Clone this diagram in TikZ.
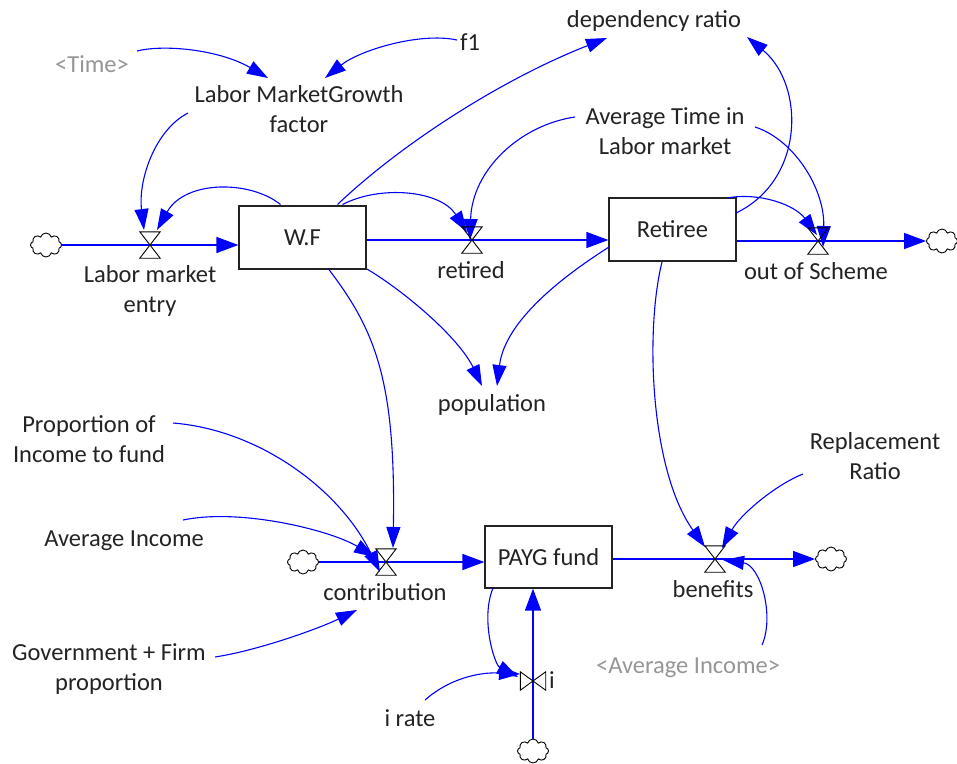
\documentclass[tikz,border=0pt]{standalone}
\usepackage{fontspec}
\setmainfont{Carlito}
\usetikzlibrary{arrows.meta,shapes.symbols,calc}
\definecolor{vblue}{RGB}{0,0,255}
\definecolor{vtext}{RGB}{35,35,35}
\definecolor{vgray}{RGB}{150,150,150}
\begin{document}
\begin{tikzpicture}[x=1pt,y=-1pt,
  lbl/.style={font=\fontsize{24.5}{30}\selectfont, text=vtext, inner sep=0pt, align=center, anchor=base},
  shadowlbl/.style={lbl, text=vgray},
  stockbox/.style={draw=vtext, line width=1.2pt, minimum width=127pt, minimum height=63pt, inner sep=0pt, font=\fontsize{24.5}{30}\selectfont, text=vtext},
  valvebox/.style={inner sep=0pt, minimum width=20pt, minimum height=26pt},
  hvalvebox/.style={inner sep=0pt, minimum width=25pt, minimum height=18pt},
  cloudn/.style={cloud, cloud puffs=8, cloud ignores aspect, minimum width=31pt, minimum height=24pt, inner sep=0pt, draw=black, fill=white, line width=0.9pt},
  flowline/.style={draw=vblue, line width=1.3pt, -{Triangle[length=22pt,width=16pt]}},
  linkline/.style={draw=vblue, line width=1.1pt, -{Triangle[length=21pt,width=14pt]}},
  vline/.style={draw=black, line width=0.9pt}
]
\useasboundingbox[fill=white] (0,0) rectangle (957,763);

% stocks
\node[stockbox] (wf) at (302.5,237.5) {W.F};
\node[stockbox] (ret) at (672.5,229.5) {Retiree};
\node[stockbox, minimum height=62pt] (payg) at (548.5,557) {PAYG fund};

% valves
\node[valvebox] (v1) at (150,245) {};
\node[valvebox] (v2) at (472,240) {};
\node[valvebox] (v3) at (818,241) {};
\node[valvebox] (v4) at (386,562) {};
\node[valvebox] (v5) at (715,559) {};
\node[hvalvebox] (v6) at (533,681) {};

% clouds
\node[cloudn] (c1) at (46,245) {};
\node[cloudn] (c2) at (942,241) {};
\node[cloudn] (c3) at (303,562) {};
\node[cloudn] (c4) at (831,559) {};
\node[cloudn] (c5) at (533,751) {};

% labels (multi-line labels: base = baseline of last line)
\node[shadowlbl] (time) at (92,72) {<Time>};
\node[lbl] (f1) at (470,50) {f1};
\node[lbl] (lmg) at (299,132) {Labor MarketGrowth\\factor};
\node[lbl] (dep) at (654,27) {dependency ratio};
\node[lbl] (atlm) at (665,154) {Average Time in\\Labor market};
\node[lbl] (lme) at (150,312) {Labor market\\entry};
\node[lbl] (retl) at (471,278) {retired};
\node[lbl] (outl) at (816,279) {out of Scheme};
\node[lbl] (pop) at (492,411) {population};
\node[lbl] (pif) at (89,462) {Proportion of\\Income to fund};
\node[lbl] (ai) at (124,546) {Average Income};
\node[lbl] (contl) at (385,600) {contribution};
\node[lbl] (gfp) at (109,690) {Government + Firm\\proportion};
\node[lbl] (irate) at (410,726) {i rate};
\node[lbl] (benl) at (713,597) {benefits};
\node[lbl] (rr) at (875,479) {Replacement\\Ratio};
\node[shadowlbl] (aig) at (688,673) {<Average Income>};
\node[lbl] (il) at (552,688) {i};

% flows
\draw[flowline] (c1.east) -- (v1.center) -- (v1.center -| wf.west);
\draw[flowline] (v2.center -| wf.east) -- (v2.center) -- (v2.center -| ret.west);
\draw[flowline] (v3.center -| ret.east) -- (v3.center) -- (v3.center -| c2.west);
\draw[flowline] (v4.center -| c3.east) -- (v4.center) -- (v4.center -| payg.west);
\draw[flowline] (v5.center -| payg.east) -- (v5.center) -- (v5.center -| c4.west);
\draw[flowline] (c5.north) -- (v6.center) -- (v6.center |- payg.south);

% connectors
\draw[linkline] ($(time.base)+(45,-21)$) .. controls (165,44) and (220,50) .. ($(lmg.base)+(-31,-54)$);
\draw[linkline] ($(f1.base)+(-13,-10)$) .. controls (420,32) and (360,50) .. ($(lmg.base)+(26,-54)$);
\draw[linkline] ($(lmg.base)+(-111,-19)$) .. controls (155,130) and (138,180) .. ($(v1.center)+(-6,-15)$);
\draw[linkline] ($(wf.center)+(-22,-33)$) .. controls (250,180) and (185,180) .. ($(v1.center)+(7,-15)$);
\draw[linkline] ($(wf.center)+(35,-33)$) .. controls (400,145) and (500,80) .. ($(dep.base)+(-47,11)$);
\draw[linkline] ($(wf.center)+(40,-33)$) .. controls (380,185) and (440,190) .. ($(v2.center)+(-5,-8)$);
\draw[linkline] ($(atlm.base)+(-90,-37)$) .. controls (520,125) and (472,170) .. ($(v2.center)+(-2,0)$);
\draw[linkline] ($(atlm.base)+(90,-27)$) .. controls (795,140) and (825,190) .. ($(v3.center)+(5,6)$);
\draw[linkline] ($(ret.center)+(63.5,-16.5)$) .. controls (805,180) and (805,85) .. ($(dep.base)+(93,10)$);
\draw[linkline] ($(ret.center)+(54.5,-31.5)$) .. controls (760,192) and (795,205) .. ($(v3.center)+(-1,-6)$);
\draw[linkline] ($(ret.center)+(-63.5,17.5)$) .. controls (565,275) and (505,320) .. ($(pop.base)+(5,-25)$);
\draw[linkline] ($(wf.center)+(64.5,31.5)$) .. controls (410,295) and (460,340) .. ($(pop.base)+(-10,-25)$);
\draw[linkline] ($(wf.center)+(26,31.5)$) .. controls (375,330) and (396,380) .. ($(v4.center)+(7,-14)$);
\draw[linkline] ($(ret.center)+(-10.5,32.5)$) .. controls (645,330) and (650,470) .. ($(v5.center)+(-10,-12)$);
\draw[linkline] ($(pif.base)+(84,-39)$) .. controls (260,430) and (340,490) .. ($(v4.center)+(-6,10)$);
\draw[linkline] ($(ai.base)+(59,-26)$) .. controls (240,508) and (330,530) .. ($(v4.center)+(-11,-5)$);
\draw[linkline] ($(gfp.base)+(106,-33)$) .. controls (260,650) and (320,628) .. ($(contl.base)+(-28,10)$);
\draw[linkline] ($(rr.base)+(-72,-5)$) .. controls (775,485) and (740,515) .. ($(v5.center)+(7,-11)$);
\draw[linkline] ($(aig.base)+(74,-28)$) .. controls (775,615) and (760,565) .. ($(v5.center)+(8,1)$);
\draw[linkline] ($(payg.center)+(-55.5,31)$) .. controls (480,620) and (495,665) .. ($(v6.center)+(-15,-4)$);
\draw[linkline] ($(irate.base)+(15,-26)$) .. controls (450,678) and (480,672) .. ($(v6.center)+(-13,-7)$);

% valve symbols
\foreach \v in {v1,v2,v3,v4,v5}{
  \draw[vline] (\v.north west) -- (\v.north east) -- (\v.south west) -- (\v.south east) -- cycle;
}
\draw[vline] (v6.north west) -- (v6.south west) -- (v6.north east) -- (v6.south east) -- cycle;
\end{tikzpicture}
\end{document}
